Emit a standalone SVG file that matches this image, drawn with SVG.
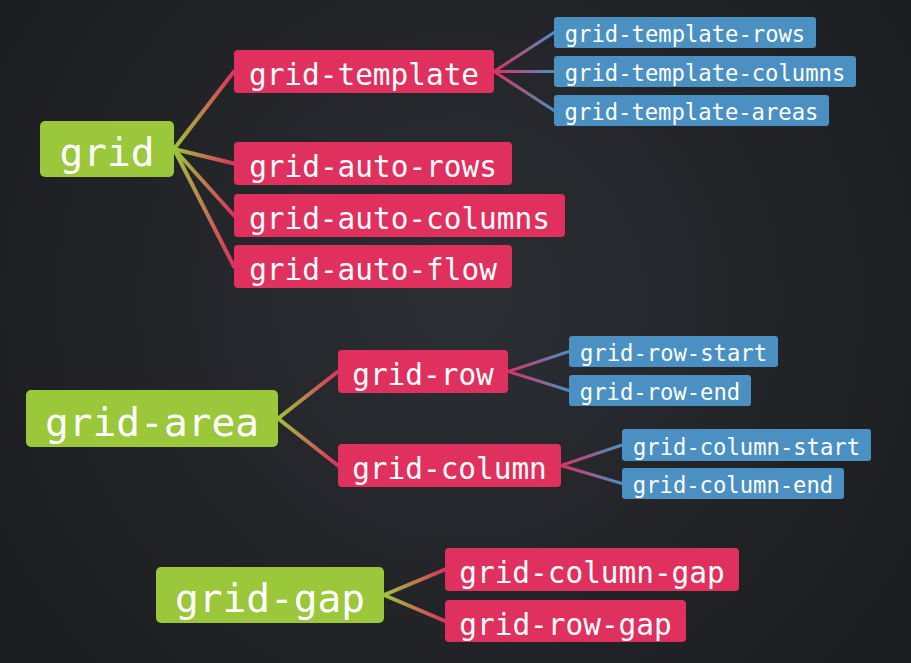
<svg xmlns="http://www.w3.org/2000/svg" width="911" height="663" viewBox="0 0 911 663">
<defs>
<radialGradient id="bg" cx="460" cy="300" r="560" gradientUnits="userSpaceOnUse">
<stop offset="0" stop-color="#2b2e33"/>
<stop offset="1" stop-color="#1b1c1f"/>
</radialGradient>
<linearGradient id="g1" gradientUnits="userSpaceOnUse" x1="174" y1="0" x2="234" y2="0"><stop offset="0" stop-color="#9bc73a"/><stop offset="1" stop-color="#e0305e"/></linearGradient>
<linearGradient id="g2" gradientUnits="userSpaceOnUse" x1="278" y1="0" x2="338" y2="0"><stop offset="0" stop-color="#9bc73a"/><stop offset="1" stop-color="#e0305e"/></linearGradient>
<linearGradient id="g3" gradientUnits="userSpaceOnUse" x1="384" y1="0" x2="445" y2="0"><stop offset="0" stop-color="#9bc73a"/><stop offset="1" stop-color="#e0305e"/></linearGradient>
<linearGradient id="b1" gradientUnits="userSpaceOnUse" x1="494" y1="0" x2="554" y2="0"><stop offset="0" stop-color="#e0305e"/><stop offset="1" stop-color="#4a90c2"/></linearGradient>
<linearGradient id="b2" gradientUnits="userSpaceOnUse" x1="508" y1="0" x2="569" y2="0"><stop offset="0" stop-color="#e0305e"/><stop offset="1" stop-color="#4a90c2"/></linearGradient>
<linearGradient id="b3" gradientUnits="userSpaceOnUse" x1="561" y1="0" x2="622" y2="0"><stop offset="0" stop-color="#e0305e"/><stop offset="1" stop-color="#4a90c2"/></linearGradient>
</defs>
<style>
text{font-family:"DejaVu Sans Mono","Liberation Mono",monospace;fill:#ffffff;text-anchor:middle}
.green rect{fill:#9bc73a}
.green text{font-size:39.5px}
.pink rect{fill:#e0305e}
.pink text{font-size:29.4px}
.blue rect{fill:#4a90c2}
.blue text{font-size:22.2px}
.c1{fill:none;stroke-width:4;stroke-linecap:round}
.c2{fill:none;stroke-width:3;stroke-linecap:round}
</style>
<rect x="0" y="0" width="911" height="663" fill="url(#bg)"/>
<g id="connectors">
<line class="c1" x1="174" y1="149" x2="234" y2="71.5" stroke="url(#g1)"/>
<line class="c1" x1="174" y1="149" x2="234" y2="163.5" stroke="url(#g1)"/>
<line class="c1" x1="174" y1="149" x2="234" y2="215.5" stroke="url(#g1)"/>
<line class="c1" x1="174" y1="149" x2="234" y2="266.5" stroke="url(#g1)"/>
<line class="c2" x1="494" y1="71.5" x2="554" y2="32.5" stroke="url(#b1)"/>
<line class="c2" x1="494" y1="71.5" x2="554" y2="71.5" stroke="url(#b1)"/>
<line class="c2" x1="494" y1="71.5" x2="554" y2="110.5" stroke="url(#b1)"/>
<line class="c1" x1="278" y1="418.5" x2="338" y2="371.5" stroke="url(#g2)"/>
<line class="c1" x1="278" y1="418.5" x2="338" y2="465.5" stroke="url(#g2)"/>
<line class="c2" x1="508" y1="371.5" x2="569" y2="351.5" stroke="url(#b2)"/>
<line class="c2" x1="508" y1="371.5" x2="569" y2="390.5" stroke="url(#b2)"/>
<line class="c2" x1="561" y1="465.5" x2="622" y2="445" stroke="url(#b3)"/>
<line class="c2" x1="561" y1="465.5" x2="622" y2="483.5" stroke="url(#b3)"/>
<line class="c1" x1="384" y1="595" x2="445" y2="569.5" stroke="url(#g3)"/>
<line class="c1" x1="384" y1="595" x2="445" y2="621" stroke="url(#g3)"/>
</g>
<g id="grid" class="green"><rect x="40" y="121" width="134" height="56" rx="5"/><text x="107" y="166">grid</text></g>
<g id="grid-area" class="green"><rect x="26" y="390" width="252" height="57" rx="5"/><text x="152" y="436">grid-area</text></g>
<g id="grid-gap" class="green"><rect x="156" y="567" width="228" height="56" rx="5"/><text x="270" y="612">grid-gap</text></g>
<g id="grid-template" class="pink"><rect x="234" y="50" width="260" height="43" rx="4"/><text x="364" y="85">grid-template</text></g>
<g id="grid-auto-rows" class="pink"><rect x="234" y="142" width="278" height="43" rx="4"/><text x="373" y="177">grid-auto-rows</text></g>
<g id="grid-auto-columns" class="pink"><rect x="234" y="194" width="331" height="43" rx="4"/><text x="399.5" y="229">grid-auto-columns</text></g>
<g id="grid-auto-flow" class="pink"><rect x="234" y="245" width="278" height="43" rx="4"/><text x="373" y="280">grid-auto-flow</text></g>
<g id="grid-row" class="pink"><rect x="338" y="350" width="170" height="43" rx="4"/><text x="423" y="385">grid-row</text></g>
<g id="grid-column" class="pink"><rect x="338" y="444" width="223" height="43" rx="4"/><text x="449.5" y="479">grid-column</text></g>
<g id="grid-column-gap" class="pink"><rect x="445" y="548" width="294" height="43" rx="4"/><text x="592" y="583">grid-column-gap</text></g>
<g id="grid-row-gap" class="pink"><rect x="445" y="600" width="241" height="42" rx="4"/><text x="565.5" y="635">grid-row-gap</text></g>
<g id="grid-template-rows" class="blue"><rect x="554" y="17" width="262" height="31" rx="3"/><text x="685" y="42">grid-template-rows</text></g>
<g id="grid-template-columns" class="blue"><rect x="554" y="56" width="302" height="31" rx="3"/><text x="705" y="81">grid-template-columns</text></g>
<g id="grid-template-areas" class="blue"><rect x="554" y="95" width="275" height="31" rx="3"/><text x="691.5" y="120">grid-template-areas</text></g>
<g id="grid-row-start" class="blue"><rect x="569" y="336" width="209" height="31" rx="3"/><text x="673.5" y="361">grid-row-start</text></g>
<g id="grid-row-end" class="blue"><rect x="569" y="375" width="182" height="31" rx="3"/><text x="660" y="400">grid-row-end</text></g>
<g id="grid-column-start" class="blue"><rect x="622" y="429" width="249" height="32" rx="3"/><text x="746.5" y="455">grid-column-start</text></g>
<g id="grid-column-end" class="blue"><rect x="622" y="468" width="222" height="31" rx="3"/><text x="733" y="493">grid-column-end</text></g>
</svg>
